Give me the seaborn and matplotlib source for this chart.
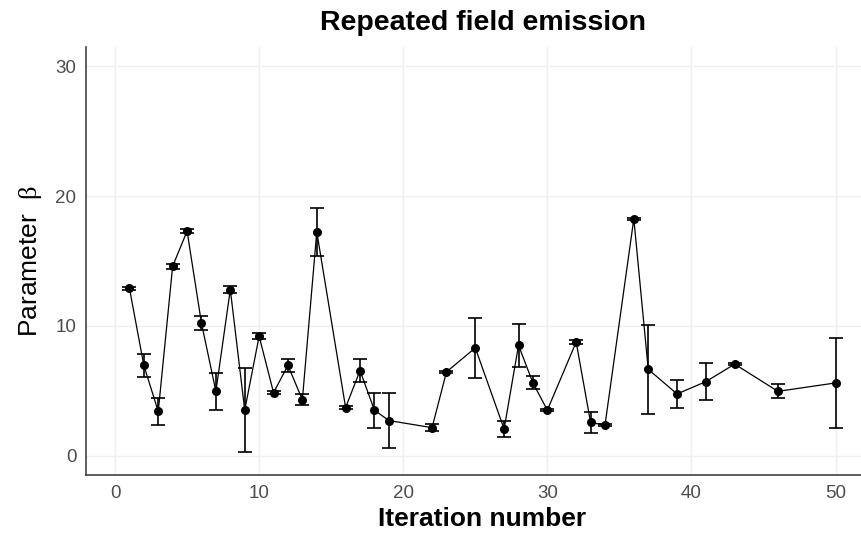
import numpy as np
import pandas as pd
import matplotlib
matplotlib.use("Agg")
import matplotlib.pyplot as plt
import seaborn as sns

# Data
iteration = [1, 2, 3, 4, 5, 6, 7, 8, 9, 10, 11, 12, 13, 14, 16, 17, 18, 19, 22, 23,
             25, 27, 28, 29, 30, 32, 33, 34, 36, 37, 39, 41, 43, 46, 50]
beta = [12.9, 6.95, 3.4, 14.6, 17.3, 10.2, 4.95, 12.8, 3.5, 9.2, 4.85, 6.95, 4.3, 17.25,
        3.7, 6.55, 3.5, 2.7, 2.15, 6.45, 8.3, 2.05, 8.5, 5.6, 3.5, 8.75, 2.55, 2.35,
        18.25, 6.65, 4.75, 5.7, 7.05, 4.95, 5.6]
beta_err = [0.12, 0.9, 1.05, 0.2, 0.15, 0.55, 1.45, 0.27, 3.25, 0.25, 0.1, 0.5, 0.42, 1.85,
            0.1, 0.9, 1.35, 2.15, 0.27, 0.1, 2.3, 0.65, 1.65, 0.5, 0.1, 0.17, 0.78, 0.1,
            0.1, 3.45, 1.05, 1.42, 0.1, 0.55, 3.5]

df = pd.DataFrame({"Iteration": iteration, "Beta": beta, "Err": beta_err})

sns.set_style("white")
plt.rcParams["font.family"] = ["Liberation Sans", "DejaVu Sans"]
plt.rcParams["mathtext.fontset"] = "custom"
plt.rcParams["mathtext.rm"] = "Liberation Serif"

fig = plt.figure(figsize=(8.62, 5.46), dpi=100)
ax = fig.add_axes([0.1, 0.13, 0.9195, 0.784])

# grid like ggplot theme
ax.grid(True, color="#EFEFEF", linewidth=1.0)
ax.set_axisbelow(True)

sns.lineplot(data=df, x="Iteration", y="Beta", color="black", linewidth=0.9,
             marker="o", markersize=6.5, markeredgewidth=0, ax=ax, zorder=3)
ax.errorbar(df["Iteration"], df["Beta"], yerr=df["Err"], fmt="none",
            ecolor="black", elinewidth=1.2, capsize=4.8, capthick=1.2, zorder=2)

ax.set_xlim(-2, 53)
ax.set_ylim(-1.5, 31.5)
ax.set_xticks([0, 10, 20, 30, 40, 50])
ax.set_yticks([0, 10, 20, 30])

for side in ["top", "right"]:
    ax.spines[side].set_visible(False)
for side in ["left", "bottom"]:
    ax.spines[side].set_color("#333333")
    ax.spines[side].set_linewidth(1.1)
ax.tick_params(axis="both", length=4, width=1, color="#333333",
               labelsize=13.5, labelcolor="#4D4D4D", pad=3)

ax.set_title("Repeated field emission", fontsize=20.5, fontweight="bold",
             color="black", pad=12)
ax.set_xlabel("Iteration number", fontsize=19, fontweight="bold",
              color="black", labelpad=4)
ax.set_ylabel(r"Parameter  $\mathrm{\beta}$", fontsize=19, color="black", labelpad=8)

fig.savefig("out.png", dpi=100)
